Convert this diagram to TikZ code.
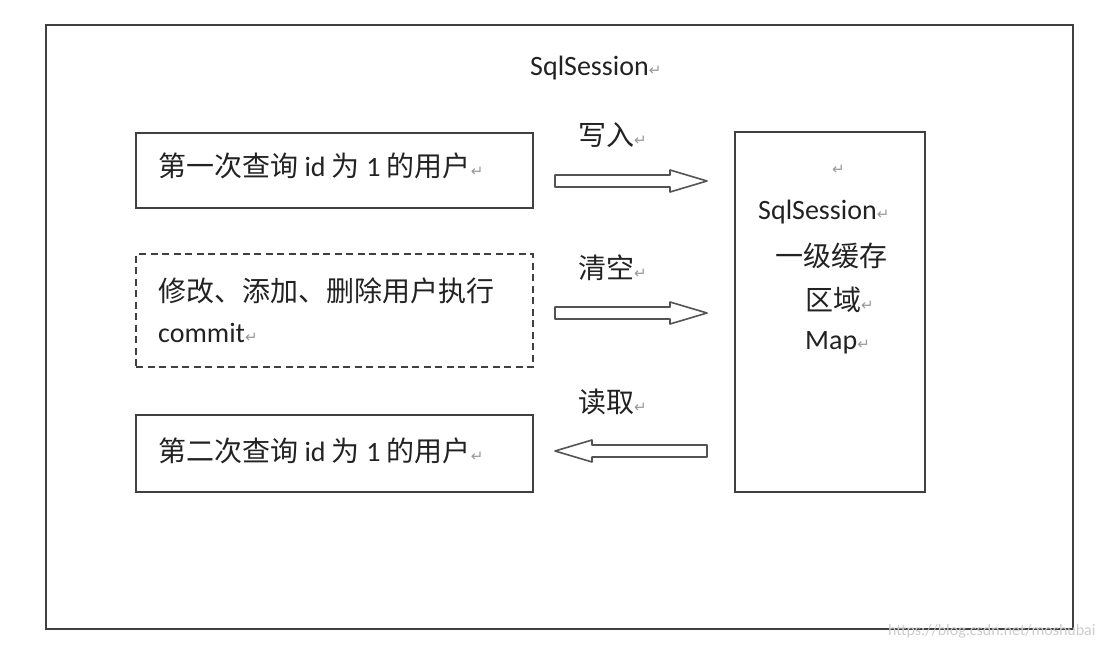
\documentclass[tikz,border=0pt]{standalone}
\usepackage{fontspec}
\setmainfont{Carlito}
\newfontfamily\cjk{Noto Sans CJK SC}
\newfontfamily\sym{DejaVu Sans}
\usetikzlibrary{calc}
\definecolor{linec}{HTML}{404040}
\definecolor{txtc}{HTML}{222222}
\newcommand{\rt}{{\sym\fontsize{15}{15}\selectfont\textcolor{gray!80}{↵}}}
\begin{document}
\begin{tikzpicture}[x=1pt,y=-1pt,
  box/.style={draw=linec,line width=1.6pt,inner sep=0pt,minimum width=397pt},
  dbox/.style={box,dash pattern=on 7pt off 4.5pt},
  lbl/.style={anchor=west,inner sep=0pt,text=txtc,font=\fontsize{28}{34}\selectfont},
  blk/.style={draw=linec!90,line width=1.6pt,fill=white,line join=round},
]
\useasboundingbox (0,0) rectangle (1113,647);
\node[draw=linec,line width=1.8pt,inner sep=0pt,minimum width=1027pt,minimum height=604pt] (outer) at (559.5,327) {};
\node[lbl] (title) at (530,68) {SqlSession\rt};

\node[box,minimum height=75pt] (q1) at (334.5,170.5) {};
\node[lbl] (t1) at (158,166) {{\cjk 第一次查询} id {\cjk 为} 1 {\cjk 的用户}\rt};

\node[dbox,minimum height=113pt] (mod) at (334.5,310.5) {};
\node[lbl] (t2a) at (158,291) {\cjk 修改、添加、删除用户执行};
\node[lbl] (t2b) at (158,333) {commit\rt};

\node[box,minimum height=77pt] (q2) at (334.5,453.5) {};
\node[lbl] (t3) at (158,451) {{\cjk 第二次查询} id {\cjk 为} 1 {\cjk 的用户}\rt};

\node[draw=linec,line width=1.6pt,inner sep=0pt,minimum width=190pt,minimum height=360pt] (cache) at (830,312) {};
\node[lbl] (c0) at (832,170) {\rt};
\node[lbl] (c1) at (758,212) {SqlSession\rt};
\node[lbl] (c2) at (775,256) {\cjk 一级缓存};
\node[lbl] (c3) at (805,300) {{\cjk 区域}\rt};
\node[lbl] (c4) at (805,343) {Map\rt};

% block arrows: s = tail, e = tip
\coordinate (a1s) at (555,181); \coordinate (a1e) at (707,181);
\coordinate (a2s) at (555,313); \coordinate (a2e) at (707,313);
\coordinate (a3s) at (707,451); \coordinate (a3e) at (555,451);
\draw[blk] ($(a1s)+(0,-6)$) -- ($(a1e)+(-37,-6)$) -- ($(a1e)+(-37,-11)$) -- (a1e)
  -- ($(a1e)+(-37,11)$) -- ($(a1e)+(-37,6)$) -- ($(a1s)+(0,6)$) -- cycle;
\draw[blk] ($(a2s)+(0,-6)$) -- ($(a2e)+(-37,-6)$) -- ($(a2e)+(-37,-11)$) -- (a2e)
  -- ($(a2e)+(-37,11)$) -- ($(a2e)+(-37,6)$) -- ($(a2s)+(0,6)$) -- cycle;
\draw[blk] ($(a3s)+(0,-6)$) -- ($(a3e)+(37,-6)$) -- ($(a3e)+(37,-11)$) -- (a3e)
  -- ($(a3e)+(37,11)$) -- ($(a3e)+(37,6)$) -- ($(a3s)+(0,6)$) -- cycle;
\node[lbl] (l1) at (578,135) {{\cjk 写入}\rt};
\node[lbl] (l2) at (578,268) {{\cjk 清空}\rt};
\node[lbl] (l3) at (578,402) {{\cjk 读取}\rt};

\node[anchor=west,inner sep=0pt,text=gray!40,font=\fontsize{16}{16}\selectfont] (wm) at (888,631) {https://blog.csdn.net/moshubai};
\end{tikzpicture}
\end{document}
